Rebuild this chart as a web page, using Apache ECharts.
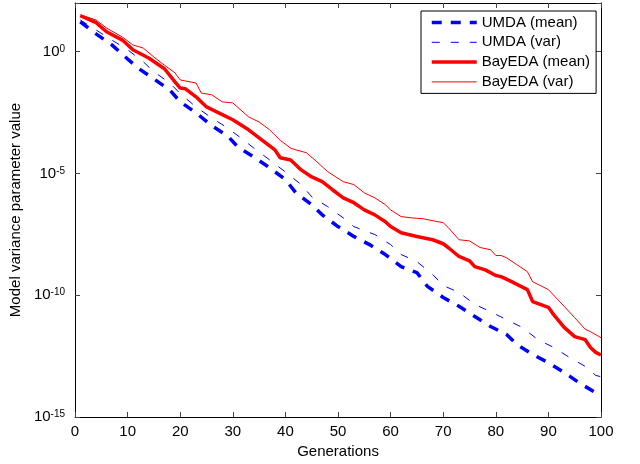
<!DOCTYPE html>
<html>
<head>
<meta charset="utf-8">
<script src="https://cdn.jsdelivr.net/npm/echarts@6/dist/echarts.min.js"></script>
<style>
html,body{margin:0;padding:0;background:#fff;}
#chart{width:640px;height:464px;}
</style>
</head>
<body>
<div id="chart"></div>
<script>
// ---- Data ----
const seriesNames = ['UMDA (mean)', 'UMDA (var)', 'BayEDA (mean)', 'BayEDA (var)'];

const umdaMeanGen = [1,4,7,10,12,15,18,20,23,26,29,31,34,37,40,42,45,47,50,53,56,59,62,65,67,70,73,76,79,82,84,87,90,93,96,99,100];
const umdaMeanVal = [1.7e1,5.4e0,1.9e0,5.0e-1,2.1e-1,7.6e-2,2.7e-2,8.7e-3,3.1e-3,9.1e-4,3.5e-4,1.2e-4,4.8e-5,1.7e-5,5.6e-6,1.6e-6,5.2e-7,2.0e-7,6.6e-8,2.6e-8,1.2e-8,4.7e-9,1.5e-9,8.5e-10,2.3e-10,8.1e-11,3.5e-11,1.35e-11,5.2e-12,2.5e-12,9.5e-13,3.7e-13,1.7e-13,6.8e-14,2.4e-14,1.0e-14,7.8e-15];

const umdaVarGen = [1,4,7,10,13,15,18,20,23,26,29,32,34,37,40,43,45,48,51,53,57,60,62,65,68,70,73,76,79,82,85,88,91,94,97,99,100];
const umdaVarVal = [2.0e1,7.8e0,3.0e0,1.2e0,3.8e-1,1.5e-1,5.2e-2,1.9e-2,5.4e-3,1.9e-3,7.4e-4,2.4e-4,1.1e-4,3.6e-5,1.15e-5,3.5e-6,1.1e-6,4.4e-7,1.5e-7,6.6e-8,3.1e-8,1.2e-8,4.7e-9,2.4e-9,7.1e-10,2.5e-10,1.3e-10,4.2e-11,2.1e-11,1.0e-11,4.8e-12,1.5e-12,7.2e-13,2.8e-13,1.2e-13,5.1e-14,4.5e-14];

const bayMeanGen = [1,4,6,9,11,14,17,19,20,21,23,25,28,30,33,35,38,39,41,43,45,47,49,51,53,55,57,59,60,62,65,68,70,71,73,75,76,78,80,81,83,86,87,90,91,93,95,97,98,99,100];
const bayMeanVal = [3.0e1,1.55e1,6.6e0,3.0e0,1.2e0,5.5e-1,2.0e-1,5.8e-2,3.2e-2,3.0e-2,1.4e-2,5.4e-3,2.6e-3,1.6e-3,6.2e-4,2.9e-4,9.3e-5,4.4e-5,3.6e-5,1.4e-5,7.2e-6,4.6e-6,2.1e-6,1.0e-6,6.3e-7,3.2e-7,2.0e-7,1.05e-7,6.6e-8,3.7e-8,2.6e-8,1.9e-8,1.3e-8,8.9e-9,3.9e-9,2.6e-9,1.5e-9,1.1e-9,6.5e-10,5.8e-10,3.6e-10,1.7e-10,5.5e-11,3.2e-11,1.6e-11,4.8e-12,2.0e-12,1.5e-12,7.2e-13,4.5e-13,3.5e-13];

const bayVarGen = [1,4,6,9,11,13,15,17,19,20,23,24,26,28,30,33,35,37,39,41,42,44,46,48,51,53,55,57,59,60,62,64,66,70,71,73,75,77,79,80,81,82,84,86,87,90,93,95,97,98,100];
const bayVarVal = [3.3e1,2.0e1,9.3e0,4.0e0,1.9e0,1.4e0,6.0e-1,2.8e-1,1.35e-1,6.9e-2,5.2e-2,2.0e-2,1.7e-2,8.7e-3,7.9e-3,2.1e-3,1.3e-3,6.2e-4,2.3e-4,1.1e-4,9.3e-5,7.1e-5,3.0e-5,1.2e-5,4.6e-6,3.5e-6,1.6e-6,1.0e-6,5.2e-7,3.2e-7,1.7e-7,1.5e-7,1.4e-7,9.5e-8,5.9e-8,1.9e-8,1.7e-8,9.1e-9,7.4e-9,4.3e-9,4.3e-9,3.5e-9,1.8e-9,9.3e-10,3.6e-10,1.7e-10,3.5e-11,1.2e-11,4.0e-12,3.2e-12,1.8e-12];

const xTicks = [0,10,20,30,40,50,60,70,80,90,100];
const yTickExponents = [-15,-10,-5,0];

// ---- Build chart ----
function pairs(g, v) { return g.map((x, i) => [x, v[i]]); }

const FONT = 'Liberation Sans, Arial, Helvetica, sans-serif';
const chart = echarts.init(document.getElementById('chart'), null, {renderer: 'canvas'});

const tickStyle = {show: true, inside: true, length: 5, lineStyle: {color: '#444', width: 1}};
const lineAx = {show: true, onZero: false, lineStyle: {color: '#000', width: 1}};

const thick = 3.5, thin = 1;

chart.setOption({
  animation: false,
  backgroundColor: '#fff',
  textStyle: {fontFamily: FONT},
  grid: {left: 74, right: 39, top: 3, bottom: 46, containLabel: false},
  legend: {
    orient: 'vertical',
    left: 421, top: 11,
    padding: [4, 6, 4, 9],
    itemWidth: 45, itemHeight: 14, itemGap: 4.8,
    backgroundColor: '#fff',
    borderColor: '#000', borderWidth: 1, borderRadius: 0,
    itemStyle: {opacity: 0, borderWidth: 0},
    lineStyle: {width: 'inherit'},
    textStyle: {fontSize: 15, color: '#000', fontFamily: FONT},
    data: [
      {name: seriesNames[0], lineStyle: {width: thick}},
      {name: seriesNames[1], lineStyle: {width: thin}},
      {name: seriesNames[2], lineStyle: {width: thick}},
      {name: seriesNames[3], lineStyle: {width: thin}}
    ]
  },
  xAxis: [{
    type: 'value', position: 'bottom', min: xTicks[0], max: xTicks[xTicks.length - 1], interval: 10,
    name: 'Generations', nameLocation: 'middle', nameGap: 27,
    nameTextStyle: {fontSize: 15, color: '#000', fontFamily: FONT},
    axisLine: lineAx, axisTick: tickStyle,
    axisLabel: {fontSize: 15, color: '#000', margin: 7, fontFamily: FONT},
    splitLine: {show: false}
  }, {
    type: 'value', position: 'top', min: xTicks[0], max: xTicks[xTicks.length - 1], interval: 10,
    axisLine: lineAx, axisTick: tickStyle, axisLabel: {show: false}, splitLine: {show: false}
  }],
  yAxis: [{
    type: 'log', logBase: 10, position: 'left',
    min: Math.pow(10, yTickExponents[0]), max: 1e2, interval: 5,
    name: 'Model variance parameter value', nameLocation: 'middle', nameGap: 47, nameRotate: 90,
    nameTextStyle: {fontSize: 15, color: '#000', fontFamily: FONT},
    axisLine: lineAx, axisTick: tickStyle,
    axisLabel: {
      margin: 10, color: '#000',
      formatter: function (v) {
        const e = Math.round(Math.log10(v));
        if (yTickExponents.indexOf(e) < 0) return '';
        return '{b|10}{s|' + (e === 0 ? '0' : String(e)) + '}';
      },
      rich: {
        b: {fontSize: 15, lineHeight: 15, fontFamily: FONT, color: '#000', verticalAlign: 'bottom', padding: [5, 0, 0, 0]},
        s: {fontSize: 10, lineHeight: 10, fontFamily: FONT, color: '#000', verticalAlign: 'top'}
      }
    },
    splitLine: {show: false}
  }, {
    type: 'log', logBase: 10, position: 'right',
    min: Math.pow(10, yTickExponents[0]), max: 1e2, interval: 5,
    axisLine: lineAx, axisTick: tickStyle, axisLabel: {show: false}, splitLine: {show: false}
  }],
  series: [{
    name: seriesNames[0], type: 'line', data: pairs(umdaMeanGen, umdaMeanVal),
    showSymbol: false, symbol: 'none', color: '#0000ff',
    lineStyle: {color: '#0000ff', width: thick, type: [10, 9], cap: 'butt'}
  }, {
    name: seriesNames[1], type: 'line', data: pairs(umdaVarGen, umdaVarVal),
    showSymbol: false, symbol: 'none', color: '#0000ff',
    lineStyle: {color: '#0000ff', width: thin, type: [8, 11]}
  }, {
    name: seriesNames[2], type: 'line', data: pairs(bayMeanGen, bayMeanVal),
    showSymbol: false, symbol: 'none', color: '#ff0000',
    lineStyle: {color: '#ff0000', width: thick}
  }, {
    name: seriesNames[3], type: 'line', data: pairs(bayVarGen, bayVarVal),
    showSymbol: false, symbol: 'none', color: '#ff0000',
    lineStyle: {color: '#ff0000', width: thin}
  }]
});
</script>
</body>
</html>
